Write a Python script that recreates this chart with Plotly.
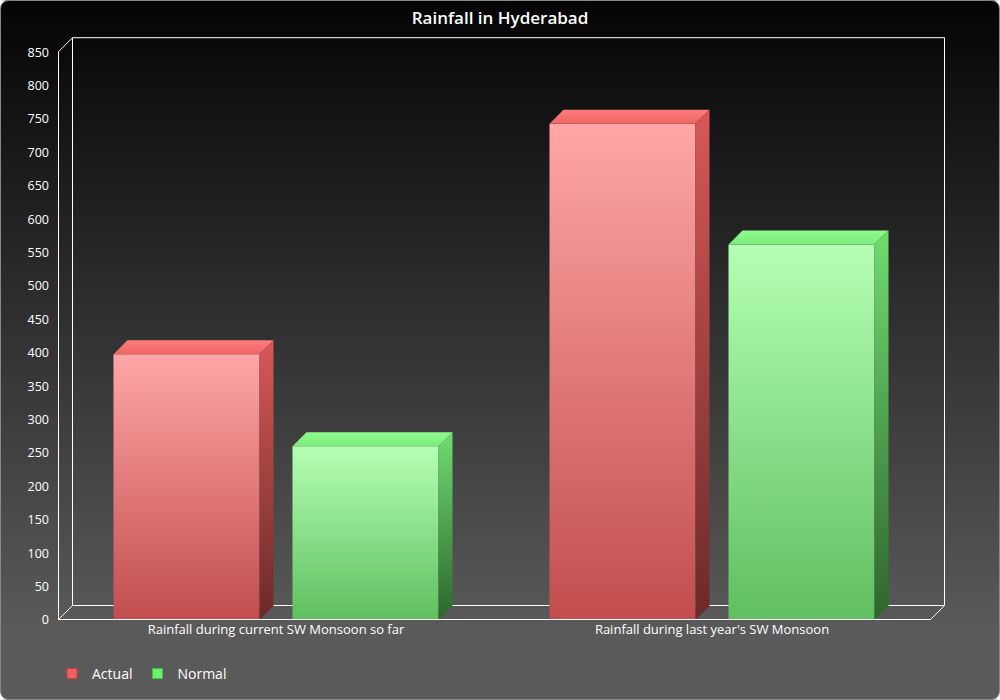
import plotly.graph_objects as go

# ---- data ----
categories = ["Rainfall during current SW Monsoon so far", "Rainfall during last year's SW Monsoon"]
series_names = ["Actual", "Normal"]
actual = [398, 743]
normal = [260, 562]
y_ticks = list(range(0, 851, 50))
title_text = "Rainfall in Hyderabad"

# ---- style / geometry ----
W, H = 1000, 700
ML, MR, MT, MB = 58, 55, 36, 80
PW, PH = W - ML - MR, H - MT - MB
YMAX_AXIS = 850
KY = 0.668               # px per value unit
KX = 436.0               # px per category
YR = [0, PH / KY]
XR = [-0.5, -0.5 + PW / KX]
DX = 14 / KX             # depth offset in category units
DY = 14 / KY             # depth offset in value units
HX = 0.5 / KX            # half-pixel nudges for crisp lines
HY = 0.5 / KY

def px2paper_x(px):
    return (px - ML) / PW

def px2paper_y(py):
    return (H - MB - py) / PH

styles = {
    "Actual": dict(front=["#c24d4d", "#ffa6a6"], top=["#ee6464", "#ff7d7d"],
                   side=["#6a2a2a", "#d85757"], legend="#f06060", off=(-162.5 / KX, -16.5 / KX)),
    "Normal": dict(front=["#5fbf5f", "#b5ffb5"], top=["#7ceb7c", "#8dfb8d"],
                   side=["#2d652d", "#70dc70"], legend="#70f070", off=(16.5 / KX, 162.5 / KX)),
}

fig = go.Figure()
shapes = []

# background gradient bands (full page)
nb = 140
for i in range(nb):
    py0 = i * H / nb
    py1 = (i + 1) * H / nb
    mid = (py0 + py1) / 2
    v = int(round(min(90, 4 + (90 - 4) * mid / 630)))
    col = "rgb(%d,%d,%d)" % (v, v, v)
    shapes.append(dict(type="rect", xref="paper", yref="paper", layer="below",
                       x0=px2paper_x(0), x1=px2paper_x(W),
                       y0=px2paper_y(py1) - 0.002, y1=px2paper_y(py0),
                       fillcolor=col, line=dict(width=0)))

# corner masks + rounded border
r = 9
def P(px, py):
    return "%.5f,%.5f" % (px2paper_x(px), px2paper_y(py))
corners = [
    (0.5, 0.5, 0.5 + r, 0.5, 0.5, 0.5 + r),
    (W - 0.5, 0.5, W - 0.5 - r, 0.5, W - 0.5, 0.5 + r),
    (0.5, H - 0.5, 0.5 + r, H - 0.5, 0.5, H - 0.5 - r),
    (W - 0.5, H - 0.5, W - 0.5 - r, H - 0.5, W - 0.5, H - 0.5 - r),
]
for cx, cy, ax, ay, bx, by in corners:
    ccx = 0 if cx < W / 2 else W
    ccy = 0 if cy < H / 2 else H
    path = "M %s L %s Q %s %s L %s Z" % (P(ccx, ccy), P(ax, ay), P(cx, cy), P(bx, by), P(ccx, by))
    shapes.append(dict(type="path", xref="paper", yref="paper", layer="below", path=path,
                       fillcolor="white", line=dict(width=0)))
border = ("M %s L %s Q %s %s L %s Q %s %s L %s Q %s %s L %s Q %s %s Z" % (
    P(0.5 + r, 0.5), P(W - 0.5 - r, 0.5), P(W - 0.5, 0.5), P(W - 0.5, 0.5 + r),
    P(W - 0.5, H - 0.5 - r), P(W - 0.5, H - 0.5), P(W - 0.5 - r, H - 0.5),
    P(0.5 + r, H - 0.5), P(0.5, H - 0.5), P(0.5, H - 0.5 - r),
    P(0.5, 0.5 + r), P(0.5, 0.5), P(0.5 + r, 0.5)))
shapes.append(dict(type="path", xref="paper", yref="paper", layer="below", path=border,
                   line=dict(color="#8a8a8a", width=1)))

# 3D frame lines (behind bars)
lc = dict(color="white", width=1)
x0, x1 = -0.5 + HX, 1.5 + HX
ya, yb = HY, YMAX_AXIS + HY
frame = [
    (x0 + DX, ya + DY, x0 + DX, yb + DY),
    (x0 + DX, yb + DY, x1 + DX, yb + DY),
    (x1 + DX, ya + DY, x1 + DX, yb + DY),
    (x0 + DX, ya + DY, x1 + DX, ya + DY),
    (x0, yb, x0 + DX, yb + DY),
    (x0, ya, x0 + DX, ya + DY),
    (x1, ya, x1 + DX, ya + DY),
    (x0, ya, x0, yb),
]
for a, b, c, d in frame:
    shapes.append(dict(type="line", xref="x", yref="y", layer="below",
                       x0=a, y0=b, x1=c, y1=d, line=lc))
# front floor line (above bars)
shapes.append(dict(type="line", xref="x", yref="y", layer="above",
                   x0=x0, y0=ya, x1=x1, y1=ya, line=lc))

# bars
data = {"Actual": actual, "Normal": normal}
for name in series_names:
    st = styles[name]
    for i, v in enumerate(data[name]):
        bx0 = i + st["off"][0]
        bx1 = i + st["off"][1]
        faces = [
            ([bx0, bx1, bx1, bx0, bx0], [0, 0, v, v, 0], st["front"]),
            ([bx0, bx1, bx1 + DX, bx0 + DX, bx0], [v, v, v + DY, v + DY, v], st["top"]),
            ([bx1, bx1 + DX, bx1 + DX, bx1, bx1], [0, DY, v + DY, v, 0], st["side"]),
        ]
        for fx, fy, cols in faces:
            fig.add_trace(go.Scatter(
                x=fx, y=fy, mode="lines", fill="toself", line=dict(width=0),
                fillgradient=dict(type="vertical", colorscale=[[0, cols[0]], [1, cols[1]]]),
                showlegend=False, hoverinfo="skip"))
    fig.add_trace(go.Scatter(x=[None], y=[None], mode="markers", name=name,
                             marker=dict(symbol="square", size=10, color=st["legend"],
                                         line=dict(color="#c04040" if name == "Actual" else "#40c040", width=1))))

fig.update_layout(
    width=W, height=H, autosize=False,
    margin=dict(l=ML, r=MR, t=MT, b=MB, pad=0, autoexpand=False),
    paper_bgcolor="white", plot_bgcolor="rgba(0,0,0,0)",
    font=dict(family="Open Sans, DejaVu Sans, sans-serif", color="white", size=12),
    title=dict(text=title_text, x=0.5, xref="container", xanchor="center",
               y=1 - 18 / H, yref="container", yanchor="middle",
               font=dict(size=17, color="white", weight=600)),
    shapes=shapes,
    showlegend=True,
    legend=dict(orientation="h", x=px2paper_x(52), xanchor="left",
                yref="container", y=1 - 674 / H, yanchor="middle", bgcolor="rgba(0,0,0,0)",
                font=dict(size=14, color="white"), itemwidth=30),
    xaxis=dict(range=XR, tickvals=[0, 1], ticktext=categories, showgrid=False,
               zeroline=False, showline=False, ticks="", fixedrange=True, automargin=False,
               tickfont=dict(size=13, color="white")),
    yaxis=dict(range=YR, tickvals=y_ticks, showgrid=False, zeroline=False,
               showline=False, ticks="", ticklabelstandoff=8, fixedrange=True, automargin=False,
               tickfont=dict(size=12.5, color="white")),
)

fig.write_html("out.html", config={"displayModeBar": False, "responsive": False},
               post_script="document.body.style.margin='0';document.body.style.overflow='hidden';")
